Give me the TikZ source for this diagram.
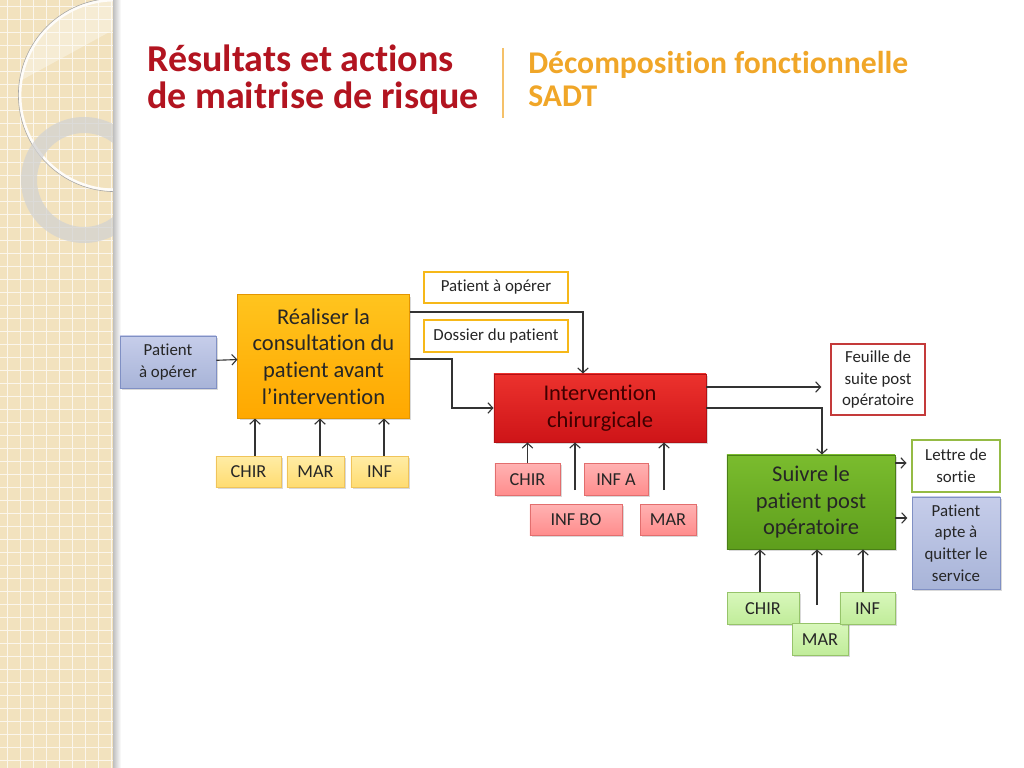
\documentclass[tikz,border=0pt]{standalone}
\usepackage{fontspec}
\setmainfont{Carlito}[Ligatures=NoCommon]
\usetikzlibrary{arrows.meta, shadows, positioning}
\definecolor{titlered}{RGB}{178,20,32}
\definecolor{titleorange}{RGB}{240,166,40}
\definecolor{stripbg}{RGB}{242,226,190}
\definecolor{orangeTop}{RGB}{255,196,30}
\definecolor{orangeBot}{RGB}{255,168,0}
\definecolor{orangeDraw}{RGB}{228,150,0}
\definecolor{yellowTop}{RGB}{255,236,165}
\definecolor{yellowBot}{RGB}{255,220,112}
\definecolor{yellowDraw}{RGB}{240,196,90}
\definecolor{redTop}{RGB}{236,50,45}
\definecolor{redBot}{RGB}{206,20,24}
\definecolor{redDraw}{RGB}{180,16,20}
\definecolor{pinkTop}{RGB}{255,178,178}
\definecolor{pinkBot}{RGB}{255,140,140}
\definecolor{pinkDraw}{RGB}{226,110,110}
\definecolor{greenTop}{RGB}{122,188,46}
\definecolor{greenBot}{RGB}{94,158,28}
\definecolor{greenDraw}{RGB}{74,127,23}
\definecolor{lgreenTop}{RGB}{216,247,186}
\definecolor{lgreenBot}{RGB}{192,236,154}
\definecolor{lgreenDraw}{RGB}{150,196,106}
\definecolor{blueTop}{RGB}{198,205,234}
\definecolor{blueBot}{RGB}{168,180,216}
\definecolor{blueDraw}{RGB}{128,144,196}
\definecolor{outOrange}{RGB}{246,184,25}
\definecolor{outRed}{RGB}{196,58,58}
\definecolor{outGreen}{RGB}{149,187,69}
\tikzset{
    shadowed/.style={drop shadow={opacity=0.3, shadow xshift=1.2pt, shadow yshift=-1.2pt}},
    process/.style={rectangle, draw, line width=0.6pt, align=center, inner sep=0pt, shadowed, font=\fontsize{16}{19}\selectfont, text=black!85},
    actor/.style={rectangle, draw, line width=0.5pt, align=center, inner sep=0pt, minimum height=0.79cm, shadowed, font=\fontsize{13}{15}\selectfont, text=black!85},
    output/.style={rectangle, draw, line width=1.8pt, fill=white, align=center, inner sep=0pt, font=\fontsize{12}{15.5}\selectfont, text=black!85},
    patient/.style={rectangle, draw=blueDraw, line width=0.6pt, top color=blueTop, bottom color=blueBot, align=center, inner sep=0pt, shadowed, font=\fontsize{12}{15.5}\selectfont, text=black!85},
    arrow/.style={-{Straight Barb[length=3.5pt, width=7.5pt]}, line width=0.8pt, black!80}
}

\begin{document}
\begin{tikzpicture}[x=0.025cm, y=-0.025cm]
    \useasboundingbox (0,0) rectangle (1024,768);

    % Decorative strip on the left
    \begin{scope}
        \clip (0,0) rectangle (113,768);
        \fill[stripbg] (0,0) rectangle (113,768);
        \foreach \k in {6,19,...,768} {
            \draw[white!70!stripbg, line width=0.6pt] (0,\k) -- (113,\k);
        }
        \foreach \k in {7,20,...,113} {
            \draw[white!70!stripbg, line width=0.6pt] (\k,0) -- (\k,768);
        }
        \begin{scope}
            \clip (115,95) circle (95);
            \fill[white, opacity=0.35] (0,0) -- (113,0) -- (113,30) -- (0,92) -- cycle;
        \end{scope}
        \draw[white!90!stripbg, line width=2pt] (115,95) circle (95);
        \draw[black!35, line width=0.4pt] (115,95) circle (96.6);
        \fill[gray!35, opacity=0.75, even odd rule] (84,180) circle (63) (84,180) circle (47);
    \end{scope}
    \shade[left color=black!25, right color=white] (113,0) rectangle (121,768);

    % Titles
    \node[anchor=base west, align=left, inner sep=0pt, text=titlered, font=\fontsize{27}{27}\selectfont\bfseries] (titre) at (147,109) {Résultats et actions\\de maitrise de risque};
    \draw[titleorange!70, line width=0.8pt] (503,48) -- (503,118);
    \node[anchor=base west, align=left, inner sep=0pt, text=titleorange, font=\fontsize{22.5}{24}\selectfont\bfseries] (soustitre) at (528,107) {Décomposition fonctionnelle\\SADT};

    % Step A
    \node[patient, minimum width=2.4cm, minimum height=1.3cm] (entree) at (168,362) {Patient\\à opérer};
    \node[process, draw=orangeDraw, top color=orangeTop, bottom color=orangeBot, minimum width=4.28cm, minimum height=3.08cm] (consult) at (323.5,356.5) {Réaliser la\\consultation du\\patient avant\\l’intervention};
    \node[actor, draw=yellowDraw, top color=yellowTop, bottom color=yellowBot, minimum width=1.63cm] (aChir) at (248.5,472) {CHIR};
    \node[actor, draw=yellowDraw, top color=yellowTop, bottom color=yellowBot, minimum width=1.43cm] (aMar) at (315.5,472) {MAR};
    \node[actor, draw=yellowDraw, top color=yellowTop, bottom color=yellowBot, minimum width=1.43cm] (aInf) at (379.5,472) {INF};
    \node[output, draw=outOrange, minimum width=3.6cm, minimum height=0.78cm] (aOut1) at (496,287.5) {Patient à opérer};
    \node[output, draw=outOrange, minimum width=3.6cm, minimum height=0.8cm] (aOut2) at (496,336) {Dossier du patient};

    % Step B
    \node[process, draw=redDraw, top color=redTop, bottom color=redBot, text=red!25!black, minimum width=5.3cm, minimum height=1.7cm] (interv) at (600,408) {Intervention\\chirurgicale};
    \node[actor, draw=pinkDraw, top color=pinkTop, bottom color=pinkBot, minimum width=1.63cm] (bChir) at (527.5,479.5) {CHIR};
    \node[actor, draw=pinkDraw, top color=pinkTop, bottom color=pinkBot, minimum width=1.6cm] (bInfA) at (616,479.5) {INF A};
    \node[actor, draw=pinkDraw, top color=pinkTop, bottom color=pinkBot, minimum width=2.3cm] (bInfBo) at (576,520) {INF BO};
    \node[actor, draw=pinkDraw, top color=pinkTop, bottom color=pinkBot, minimum width=1.4cm] (bMar) at (668,520) {MAR};
    \coordinate (bIn1) at (575,490);
    \coordinate (bIn2) at (664,490);
    \node[output, draw=outRed, minimum width=2.35cm, minimum height=1.78cm] (feuille) at (878,379.5) {Feuille de\\suite post\\opératoire};

    % Step C
    \node[process, draw=greenDraw, top color=greenTop, bottom color=greenBot, minimum width=4.2cm, minimum height=2.35cm] (suivi) at (811,502) {Suivre le\\patient post\\opératoire};
    \node[actor, draw=lgreenDraw, top color=lgreenTop, bottom color=lgreenBot, minimum width=1.8cm] (cChir) at (763,608.5) {CHIR};
    \node[actor, draw=lgreenDraw, top color=lgreenTop, bottom color=lgreenBot, minimum width=1.4cm] (cMar) at (820,639.5) {MAR};
    \node[actor, draw=lgreenDraw, top color=lgreenTop, bottom color=lgreenBot, minimum width=1.38cm] (cInf) at (867.5,608.5) {INF};
    \coordinate (cIn) at (817,605);
    \node[output, draw=outGreen, minimum width=2.2cm, minimum height=1.3cm] (lettre) at (956,466) {Lettre de\\sortie};
    \node[patient, minimum width=2.2cm, minimum height=2.3cm] (sortie) at (956,543) {Patient\\apte à\\quitter le\\service};

    % Flows
    \draw[arrow] (entree) -- (consult);
    \foreach \n/\x in {aChir/255, aMar/320, aInf/384} {
        \draw[arrow] (\n.north -| \x,0) -- (consult.south -| \x,0);
    }
    \draw[arrow] (consult.east |- 0,312) -| (interv.north -| 583,0);
    \draw[arrow] (consult.east |- 0,359) -- (452,359) |- (interv.west);
    \draw[arrow] (bChir.north) -- (interv.south -| bChir.north);
    \draw[arrow] (bIn1) -- (interv.south -| bIn1);
    \draw[arrow] (bIn2) -- (interv.south -| bIn2);
    \draw[arrow, shorten >=6pt] (interv.east |- 0,387) -- (feuille.west |- 0,387);
    \draw[arrow] (interv.east |- 0,408) -| (suivi.north -| 822,0);
    \draw[arrow] (cChir.north -| 760,0) -- (suivi.south -| 760,0);
    \draw[arrow] (cIn) -- (suivi.south -| cIn);
    \draw[arrow] (cInf.north -| 863,0) -- (suivi.south -| 863,0);
    \draw[arrow, shorten >=3pt] (suivi.east |- 0,463) -- (lettre.west |- 0,463);
    \draw[arrow, shorten >=3pt] (suivi.east |- 0,518) -- (sortie.west |- 0,518);
\end{tikzpicture}
\end{document}
